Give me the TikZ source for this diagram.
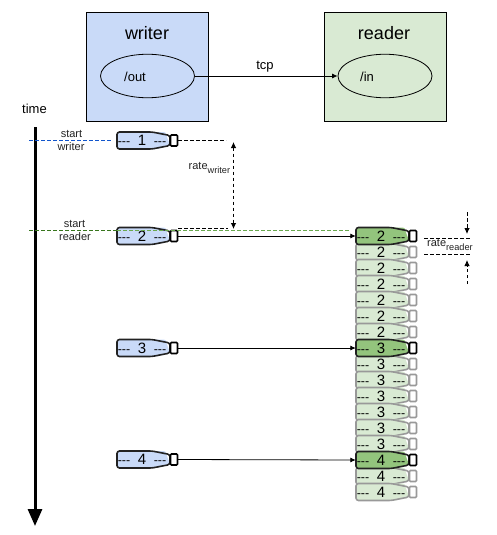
\documentclass[tikz,border=0pt]{standalone}
\usepackage{fontspec}
\setmainfont{Liberation Sans}
\usetikzlibrary{arrows.meta,shapes.geometric}
\definecolor{wfill}{HTML}{C9DAF8}
\definecolor{rfill}{HTML}{D9EAD3}
\definecolor{rbright}{HTML}{93C47D}
\definecolor{linegray}{HTML}{999999}
\definecolor{dark}{HTML}{222222}
\definecolor{bluedash}{HTML}{1155CC}
\definecolor{greendash}{HTML}{38761D}
\definecolor{greendashb}{HTML}{6AA84F}
\tikzset{
  x=1pt,y=-1pt,
  procbox/.style={draw=black,line width=0.8pt,minimum width=122pt,minimum height=108.5pt,inner sep=0pt},
  portell/.style={draw=black,line width=0.8pt,ellipse,minimum width=94pt,minimum height=43.5pt,inner sep=0pt},
  boxtitle/.style={font=\fontsize{18}{20}\selectfont,inner sep=0pt},
  plain12/.style={font=\fontsize{13}{15}\selectfont,inner sep=0pt},
  lab/.style={font=\fontsize{11}{13}\selectfont,inner sep=0pt,text=dark},
  lnk/.style={line width=0.8pt,-{Latex[length=5.5pt,width=5pt]}},
  dsh/.style={line width=0.8pt,dash pattern=on 3.5pt off 2.5pt},
  dsharrow/.style={dsh,-{Latex[length=6pt,width=5.5pt]}},
  anchorbox/.style={inner sep=0pt,minimum width=61pt,minimum height=17pt},
  dashtext/.style={inner sep=0pt,anchor=base,font=\fontsize{12.5}{14}\selectfont,text=black},
  numtext/.style={inner sep=0pt,anchor=base,font=\fontsize{15}{17}\selectfont,text=black},
}
\newcommand{\subt}[1]{\raisebox{-3.5pt}{\fontsize{9.2}{11}\selectfont #1}}
% \bottle{name}{left x}{centre y}{number}{fill}{line}{cap line}
\newcommand{\bottle}[7]{%
  \node[anchorbox] (#1) at (#2+30.5,#3) {};
  \fill[#5,rounded corners=2.5pt] (#2,#3-8.5) -- (#2+49,#3-8.5) -- (#2+50,#3-3) -- (#2+53,#3+4) -- (#2+40,#3+8.5) -- (#2,#3+8.5) -- cycle;
  \draw[#6,line width=1.6pt,rounded corners=2.5pt] (#2,#3-8.5) -- (#2+35,#3-8.5) -- (#2+53,#3-5) -- (#2+53,#3+5) -- (#2+35,#3+8.5) -- (#2,#3+8.5) -- cycle;
  \draw[#7,line width=1.7pt,rounded corners=1pt,fill=white] (#2+53.5,#3-5.5) rectangle (#2+60.5,#3+5.5);
  \node[dashtext] at (#2+7,#3+5.3) {-{}-{}-};
  \node[dashtext] at (#2+43,#3+5.3) {-{}-{}-};
  \node[numtext] at (#2+25,#3+5.3) {#4};
}
\begin{document}
\begin{tikzpicture}
\useasboundingbox (0,0) rectangle (497,535);
\node[procbox,fill=wfill] (writer) at (147.5,66.8) {};
\node[procbox,fill=rfill] (reader) at (385.5,66.8) {};
\node[boxtitle] (writertitle) at (147,33) {writer};
\node[boxtitle] (readertitle) at (384,33) {reader};
\node[portell] (out) at (147.5,76) {};
\node[portell] (in) at (385,76) {};
\node[plain12] (outl) at (135,76.5) {/out};
\node[plain12] (inl) at (367,76.5) {/in};
\draw[lnk] (out.east) -- (in.west);
\node[plain12] (tcp) at (265,66.5) {tcp};
\node[plain12] (time) at (34.5,108.5) {time};
\coordinate (t0) at (35,127);
\coordinate (t1) at (35,526);
\draw[line width=3pt,-{Triangle[length=17pt,width=14pt]}] (t0) -- (t1);
\coordinate (bl) at (29,140.5);
\coordinate (br) at (112,140.5);
\coordinate (gl) at (29,230.5);
\coordinate (gm) at (117,230.5);
\coordinate (gr) at (350,230.5);
\draw[dsh,bluedash] (bl) -- (br);
\bottle{w1}{117}{140.5}{1}{wfill}{dark}{black}
\bottle{w2}{117}{236}{2}{wfill}{dark}{black}
\bottle{w3}{117}{348}{3}{wfill}{dark}{black}
\bottle{w4}{117}{459.5}{4}{wfill}{dark}{black}
\draw[dsh,greendash] (gl) -- (gm);
\draw[dsh,greendashb] (gm) -- (gr);
\bottle{r2b}{356}{252}{2}{rfill}{linegray}{linegray}
\bottle{r2c}{356}{268}{2}{rfill}{linegray}{linegray}
\bottle{r2d}{356}{284}{2}{rfill}{linegray}{linegray}
\bottle{r2e}{356}{300}{2}{rfill}{linegray}{linegray}
\bottle{r2f}{356}{316}{2}{rfill}{linegray}{linegray}
\bottle{r2g}{356}{332}{2}{rfill}{linegray}{linegray}
\bottle{r2a}{356}{236}{2}{rbright}{dark}{black}
\bottle{r3b}{356}{364}{3}{rfill}{linegray}{linegray}
\bottle{r3c}{356}{380}{3}{rfill}{linegray}{linegray}
\bottle{r3d}{356}{396}{3}{rfill}{linegray}{linegray}
\bottle{r3e}{356}{412}{3}{rfill}{linegray}{linegray}
\bottle{r3f}{356}{428}{3}{rfill}{linegray}{linegray}
\bottle{r3g}{356}{444}{3}{rfill}{linegray}{linegray}
\bottle{r3a}{356}{348}{3}{rbright}{dark}{black}
\bottle{r4b}{356}{476}{4}{rfill}{linegray}{linegray}
\bottle{r4c}{356}{492}{4}{rfill}{linegray}{linegray}
\bottle{r4a}{356}{460}{4}{rbright}{dark}{black}
\draw[lnk] (w2.east) -- (r2a.west);
\draw[lnk] (w3.east) -- (r3a.west);
\draw[lnk] (w4.east) -- (r4a.west);
\node[lab] (s1) at (71.5,133.5) {start};
\node[lab] (s1b) at (71,146.5) {writer};
\node[lab] (s2) at (74.5,223.5) {start};
\node[lab] (s2b) at (75,236.5) {reader};
\coordinate (wa) at (178,140.5);
\coordinate (wb) at (226,140.5);
\coordinate (wc) at (178,228.5);
\coordinate (wd) at (228,228.5);
\coordinate (we) at (233.5,142);
\coordinate (wf) at (233.5,229);
\draw[dsh] (wa) -- (wb);
\draw[dsh] (wc) -- (wd);
\draw[dsh,{Latex[length=6pt,width=5.5pt]}-{Latex[length=6pt,width=5.5pt]}] (we) -- (wf);
\node[lab,anchor=west] (ratew) at (188.5,168) {rate\subt{writer}};
\coordinate (ra) at (424,238);
\coordinate (rb) at (471,238);
\coordinate (rc) at (424,254);
\coordinate (rd) at (471,254);
\coordinate (re) at (467,212);
\coordinate (rf) at (467,234);
\coordinate (rg) at (467,284);
\coordinate (rh) at (467,260);
\draw[dsh] (ra) -- (rb);
\draw[dsh] (rc) -- (rd);
\draw[dsharrow] (re) -- (rf);
\draw[dsharrow] (rg) -- (rh);
\node[lab,anchor=west] (rater) at (427,245) {rate\subt{reader}};
\end{tikzpicture}
\end{document}
